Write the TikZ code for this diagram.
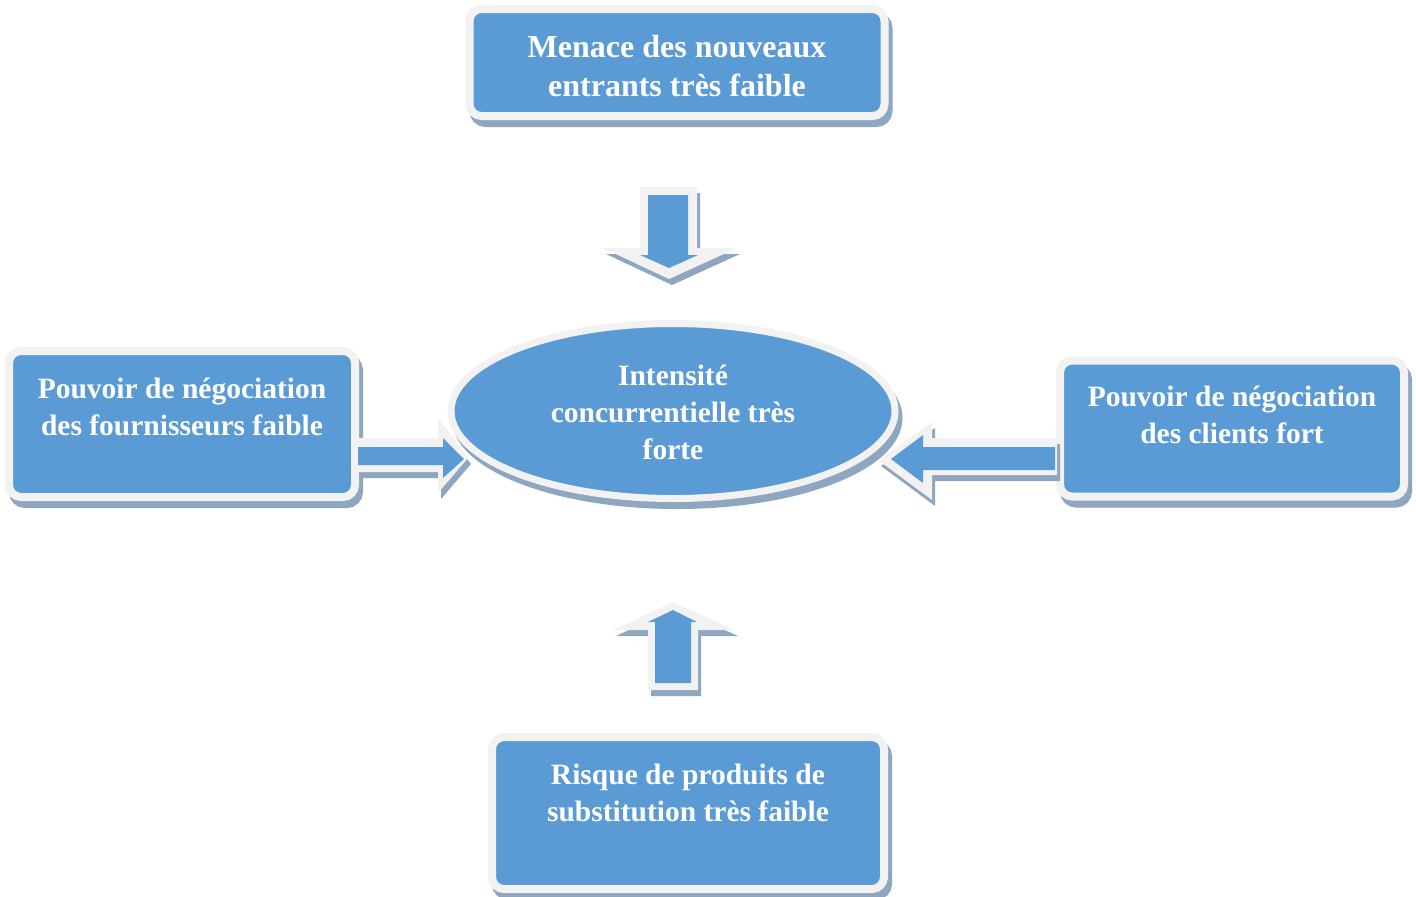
\documentclass[tikz,border=0pt]{standalone}
\usepackage{fontspec}
\setmainfont{Liberation Serif}
\usetikzlibrary{shapes.geometric,shadows}
\definecolor{Bleu}{HTML}{5B9BD5}
\definecolor{Bord}{HTML}{F2F2F2}
\definecolor{Ombre}{HTML}{8FA6C0}
\tikzset{
  ombre/.style={
    drop shadow={shadow xshift=2pt, shadow yshift=-3.5pt,
      fill=Ombre, draw=Ombre, line width=#1, opacity=1}
  },
  boite/.style={
    rounded corners=6pt, draw=Bord, line width=4pt, fill=Bleu,
    text=white, font=\bfseries\fontsize{14.75}{18.5}\selectfont,
    align=center, inner sep=0pt, ombre=4pt
  },
  pole/.style={
    ellipse, draw=Bord, line width=3.5pt, fill=Bleu,
    text=white, font=\bfseries\fontsize{14.75}{18.5}\selectfont,
    align=center, inner sep=0pt, ombre=3.5pt
  },
  flecheExt/.style={
    fill=Bord,
    drop shadow={shadow xshift=1.5pt, shadow yshift=-3pt, fill=Ombre, opacity=1}
  },
  flecheInt/.style={fill=Bleu}
}

\begin{document}
\begin{tikzpicture}[x=0.5pt,y=-0.5pt]
    \useasboundingbox (0,0) rectangle (1416,896);
    \node[boite,font=\bfseries\fontsize{16}{19.5}\selectfont,minimum width=207.5pt,minimum height=53.5pt,
      text height=34.5pt] (menace) at (677,62.5)
      {Menace des nouveaux\\entrants très faible};
    \node[pole,minimum width=222pt,minimum height=87.5pt,text height=48.5pt] (intensite) at (673,411)
      {Intensité\\concurrentielle très\\forte};
    \node[boite,minimum width=173pt,minimum height=73pt,text depth=17.5pt] (fournisseurs) at (182,424)
      {Pouvoir de négociation\\des fournisseurs faible};
    \node[boite,minimum width=172pt,minimum height=68pt,text depth=13.5pt] (clients) at (1232,428.5)
      {Pouvoir de négociation\\des clients fort};
    \node[boite,minimum width=196pt,minimum height=76pt,text depth=20pt] (substitution) at (688,813)
      {Risque de produits de\\substitution très faible};
    % fleches en bloc
    \fill[flecheExt] (640,187) -- (697,187) -- (697,248) -- (737,248) -- (669,279) -- (603,248) -- (640,248) -- cycle;
    \fill[flecheInt] (648,195) -- (688,195) -- (688,255) -- (698,255) -- (669,268) -- (640,255) -- (648,255) -- cycle;
    \fill[flecheExt] (673,602) -- (735,630) -- (698,630) -- (698,690) -- (648,690) -- (648,630) -- (613,630) -- cycle;
    \fill[flecheInt] (673,610) -- (697,622) -- (691,622) -- (691,683) -- (655,683) -- (655,622) -- (648,622) -- cycle;
    \fill[flecheExt] (356,438) -- (438,438) -- (438,418) -- (468,458) -- (438,493) -- (438,472) -- (356,472) -- cycle;
    \fill[flecheInt] (358,447) -- (443,447) -- (443,438) -- (464,459) -- (443,478) -- (443,465) -- (358,465) -- cycle;
    \fill[flecheExt] (1057,438) -- (932,438) -- (932,422) -- (878,460) -- (932,500) -- (932,475) -- (1057,475) -- cycle;
    \fill[flecheInt] (1055,447) -- (923,447) -- (923,435) -- (891,459) -- (923,483) -- (923,470) -- (1055,470) -- cycle;
  \end{tikzpicture}
\end{document}
